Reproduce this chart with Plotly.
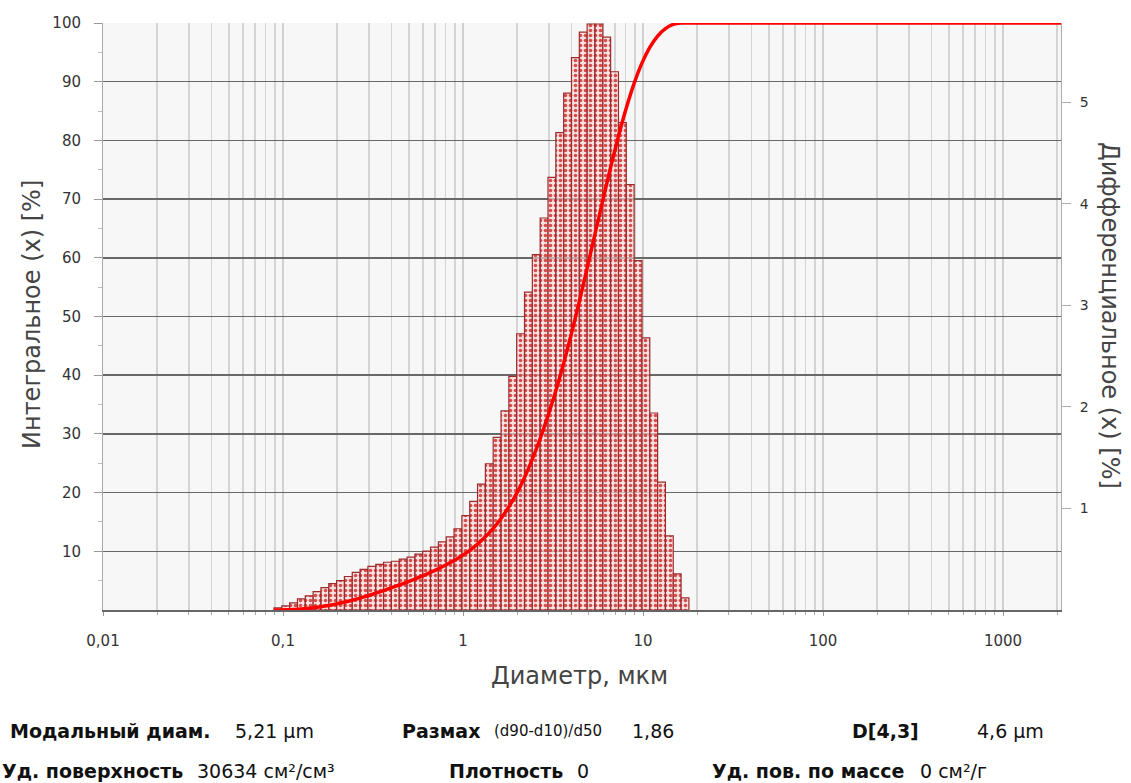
import numpy as np
import plotly.graph_objects as go

# ---------------- data ----------------
bin_edges_um = [0.0891, 0.0985, 0.1088, 0.1203, 0.1330, 0.1470, 0.1625, 0.1796, 0.1985, 0.2194,
                0.2425, 0.2681, 0.2963, 0.3275, 0.3620, 0.4001, 0.4423, 0.4889, 0.5404, 0.5973,
                0.6602, 0.7297, 0.8066, 0.8916, 0.9858, 1.0897, 1.2044, 1.3313, 1.4715, 1.6265,
                1.7978, 1.9872, 2.1965, 2.4279, 2.6836, 2.9663, 3.2788, 3.6241, 4.0059, 4.4279,
                4.8943, 5.4099, 5.9797, 6.6096, 7.3058, 8.0754, 8.9260, 9.8666, 10.906, 12.055,
                13.324, 14.728, 16.279, 17.994]

differential_pct = [0.02, 0.04, 0.07, 0.11, 0.14, 0.18, 0.22, 0.26, 0.29, 0.33,
                    0.37, 0.40, 0.43, 0.45, 0.47, 0.48, 0.50, 0.52, 0.55, 0.58,
                    0.62, 0.67, 0.72, 0.80, 0.93, 1.07, 1.24, 1.44, 1.70, 1.96,
                    2.30, 2.72, 3.13, 3.50, 3.86, 4.26, 4.70, 5.09, 5.44, 5.69,
                    5.77, 5.77, 5.64, 5.30, 4.80, 4.19, 3.44, 2.68, 1.94, 1.26,
                    0.73, 0.355, 0.12]

cumulative_diam_um = bin_edges_um + [2100]
cumulative_pct = [0, 0.02, 0.06, 0.13, 0.24, 0.38, 0.56, 0.78, 1.04, 1.33,
                  1.66, 2.03, 2.43, 2.86, 3.31, 3.78, 4.26, 4.76, 5.28, 5.83,
                  6.41, 7.03, 7.70, 8.42, 9.22, 10.15, 11.22, 12.46, 13.90, 15.60,
                  17.56, 19.86, 22.58, 25.71, 29.21, 33.07, 37.33, 42.03, 47.12, 52.56,
                  58.25, 64.02, 69.79, 75.43, 80.73, 85.53, 89.72, 93.16, 95.84, 97.78,
                  99.04, 99.77, 100.0, 100.0, 100.0]

x_tick_vals = [0.01, 0.1, 1, 10, 100, 1000]
x_tick_text = ["0,01", "0,1", "1", "10", "100", "1000"]
left_tick_vals = [10, 20, 30, 40, 50, 60, 70, 80, 90, 100]
right_tick_vals = [1, 2, 3, 4, 5]

stats_row1 = [("<b>Модальный диам.</b>", 8, 19), ("5,21 μm", 233, 19),
              ("<b>Размах</b>", 400, 19), ("(d90-d10)/d50", 492, 15), ("1,86", 630, 19),
              ("<b>D[4,3]</b>", 850, 19), ("4,6 μm", 975, 19)]
stats_row2 = [("<b>Уд. поверхность</b>", 0, 19), ("30634 см²/см³", 195, 19),
              ("<b>Плотность</b>", 447, 19), ("0", 575, 19),
              ("<b>Уд. пов. по массе</b>", 710, 19), ("0 см²/г", 918, 19)]

# ---------------- geometry ----------------
W, H = 1131, 783
L, R, T, B = 103, 70, 23, 173
PW, PH = W - L - R, H - T - B
x_range_log = [-2, np.log10(2100)]
FONT = "DejaVu Sans"

def px_x(px):
    return (px - L) / PW

def px_y(py):
    return (H - B - py) / PH

log_edges = np.log10(np.array(bin_edges_um))
centers = (log_edges[:-1] + log_edges[1:]) / 2
widths = np.diff(log_edges)

fig = go.Figure()

fig.add_trace(go.Bar(
    x=centers, y=differential_pct, width=widths,
    xaxis="x", yaxis="y",
    marker=dict(
        line=dict(color="#9c2c2c", width=1.2),
        pattern=dict(shape=".", fgcolor="#d23a3a", bgcolor="rgba(250,215,215,0.65)",
                     size=5, solidity=0.4, fgopacity=0.9),
    ),
    showlegend=False, hoverinfo="skip",
))

fig.add_trace(go.Scatter(
    x=cumulative_diam_um, y=cumulative_pct,
    xaxis="x2", yaxis="y2", mode="lines",
    line=dict(color="#ff0000", width=3.5, shape="spline", smoothing=0.5),
    showlegend=False, hoverinfo="skip",
))

minor_x = [m * 10.0 ** k for k in range(-2, 4) for m in range(2, 10) if m * 10.0 ** k < 2100]

fig.update_layout(
    width=W, height=H,
    margin=dict(l=L, r=R, t=T, b=B),
    paper_bgcolor="white", plot_bgcolor="#f7f7f7",
    font=dict(family=FONT, color="#333"),
    bargap=0,
    xaxis=dict(type="linear", range=x_range_log, visible=False, fixedrange=True),
    yaxis=dict(range=[0, 5.78], side="right", showgrid=False, zeroline=False,
               tickvals=right_tick_vals, ticks="outside", ticklen=9, tickcolor="#aaa",
               showline=True, linecolor="#aaa", linewidth=1,
               tickfont=dict(size=14, color="#333"), ticklabelstandoff=6),
    xaxis2=dict(type="log", range=x_range_log, overlaying="x", side="bottom",
                tickvals=x_tick_vals, ticktext=x_tick_text,
                showgrid=True, gridcolor="#d0d0d0", gridwidth=1.5,
                ticks="outside", ticklen=4, tickcolor="#999",
                minor=dict(tickvals=minor_x, showgrid=True, gridcolor="#d4d4d4", gridwidth=1.5,
                           ticks="outside", ticklen=3, tickcolor="#aaa"),
                showline=True, linecolor="#666", linewidth=1.5, zeroline=False,
                tickfont=dict(size=15, color="#333"), ticklabelstandoff=12),
    yaxis2=dict(range=[0, 100], overlaying="y", side="left",
                tickvals=left_tick_vals, showgrid=True, gridcolor="#686868", gridwidth=1.5,
                ticks="outside", ticklen=8, tickcolor="#999",
                minor=dict(tickvals=[5, 15, 25, 35, 45, 55, 65, 75, 85, 95],
                           ticks="outside", ticklen=4, tickcolor="#bbb", showgrid=False),
                showline=True, linecolor="#aaa", linewidth=1, zeroline=False,
                tickfont=dict(size=15, color="#333"), ticklabelstandoff=10),
)

ann = []
ann.append(dict(text="Интегральное (x) [%]", x=px_x(32), y=px_y(315), xref="paper", yref="paper",
                textangle=-90, showarrow=False, font=dict(size=24, color="#444"),
                xanchor="center", yanchor="middle"))
ann.append(dict(text="Дифференциальное (x) [%]", x=px_x(1110), y=px_y(315), xref="paper", yref="paper",
                textangle=90, showarrow=False, font=dict(size=24, color="#444"),
                xanchor="center", yanchor="middle"))
ann.append(dict(text="Диаметр, мкм", x=px_x(579), y=px_y(676), xref="paper", yref="paper",
                showarrow=False, font=dict(size=24, color="#444"),
                xanchor="center", yanchor="middle"))
for row, py in ((stats_row1, 731), (stats_row2, 771)):
    for txt, px, fs in row:
        ann.append(dict(text=txt, x=px_x(px), y=px_y(py), xref="paper", yref="paper",
                        showarrow=False, font=dict(size=fs, color="#111"),
                        xanchor="left", yanchor="middle"))
fig.update_layout(annotations=ann)

fig.write_html("out.html", config={"displayModeBar": False, "staticPlot": True},
               post_script="document.body.style.margin='0';document.body.style.overflow='hidden';")
